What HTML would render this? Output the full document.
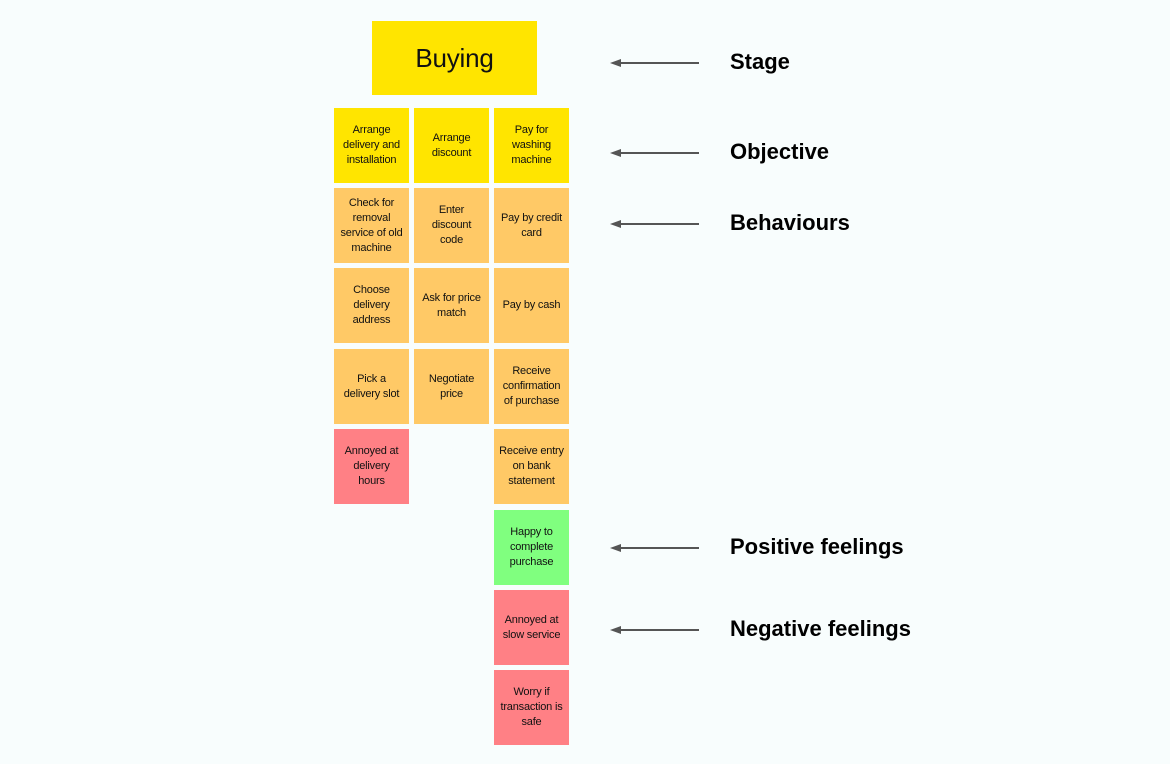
<!DOCTYPE html>
<html><head><meta charset="utf-8"><style>
body{margin:0;width:1170px;height:764px;background:#f8fdfd;position:relative;overflow:hidden;font-family:"Liberation Sans",sans-serif}
.n{position:absolute;width:75px;height:75px;display:flex;align-items:center;justify-content:center;text-align:center;font-size:11px;line-height:15px;color:#111;box-sizing:border-box;white-space:nowrap;letter-spacing:-0.2px}
.y{background:#ffe500}.o{background:#ffc966}.r{background:#ff8085}.g{background:#80ff7f}
.l{position:absolute;left:730px;font-size:22px;font-weight:bold;color:#000;line-height:26px}
</style></head><body>
<div class="n y" style="left:372px;top:21px;width:165px;height:74px;font-size:26px">Buying</div>
<div class="n y" style="left:334px;top:108px">Arrange<br>delivery and<br>installation</div>
<div class="n y" style="left:414px;top:108px">Arrange<br>discount</div>
<div class="n y" style="left:494px;top:108px">Pay for<br>washing<br>machine</div>
<div class="n o" style="left:334px;top:188px">Check for<br>removal<br>service of old<br>machine</div>
<div class="n o" style="left:414px;top:188px">Enter<br>discount<br>code</div>
<div class="n o" style="left:494px;top:188px">Pay by credit<br>card</div>
<div class="n o" style="left:334px;top:268px">Choose<br>delivery<br>address</div>
<div class="n o" style="left:414px;top:268px">Ask for price<br>match</div>
<div class="n o" style="left:494px;top:268px">Pay by cash</div>
<div class="n o" style="left:334px;top:349px">Pick a<br>delivery slot</div>
<div class="n o" style="left:414px;top:349px">Negotiate<br>price</div>
<div class="n o" style="left:494px;top:349px">Receive<br>confirmation<br>of purchase</div>
<div class="n r" style="left:334px;top:429px">Annoyed at<br>delivery<br>hours</div>
<div class="n o" style="left:494px;top:429px">Receive entry<br>on bank<br>statement</div>
<div class="n g" style="left:494px;top:510px">Happy to<br>complete<br>purchase</div>
<div class="n r" style="left:494px;top:590px">Annoyed at<br>slow service</div>
<div class="n r" style="left:494px;top:670px">Worry if<br>transaction is<br>safe</div>
<svg width="1170" height="764" style="position:absolute;left:0;top:0">
<g stroke="#555" stroke-width="2" fill="#555">
<line x1="699" y1="63" x2="618" y2="63"/><polygon points="610,63 621,59 621,67" stroke="none"/>
<line x1="699" y1="153" x2="618" y2="153"/><polygon points="610,153 621,149 621,157" stroke="none"/>
<line x1="699" y1="224" x2="618" y2="224"/><polygon points="610,224 621,220 621,228" stroke="none"/>
<line x1="699" y1="548" x2="618" y2="548"/><polygon points="610,548 621,544 621,552" stroke="none"/>
<line x1="699" y1="630" x2="618" y2="630"/><polygon points="610,630 621,626 621,634" stroke="none"/>
</g></svg>
<div class="l" style="top:49px">Stage</div>
<div class="l" style="top:139px">Objective</div>
<div class="l" style="top:210px">Behaviours</div>
<div class="l" style="top:534px">Positive feelings</div>
<div class="l" style="top:616px">Negative feelings</div>
</body></html>
